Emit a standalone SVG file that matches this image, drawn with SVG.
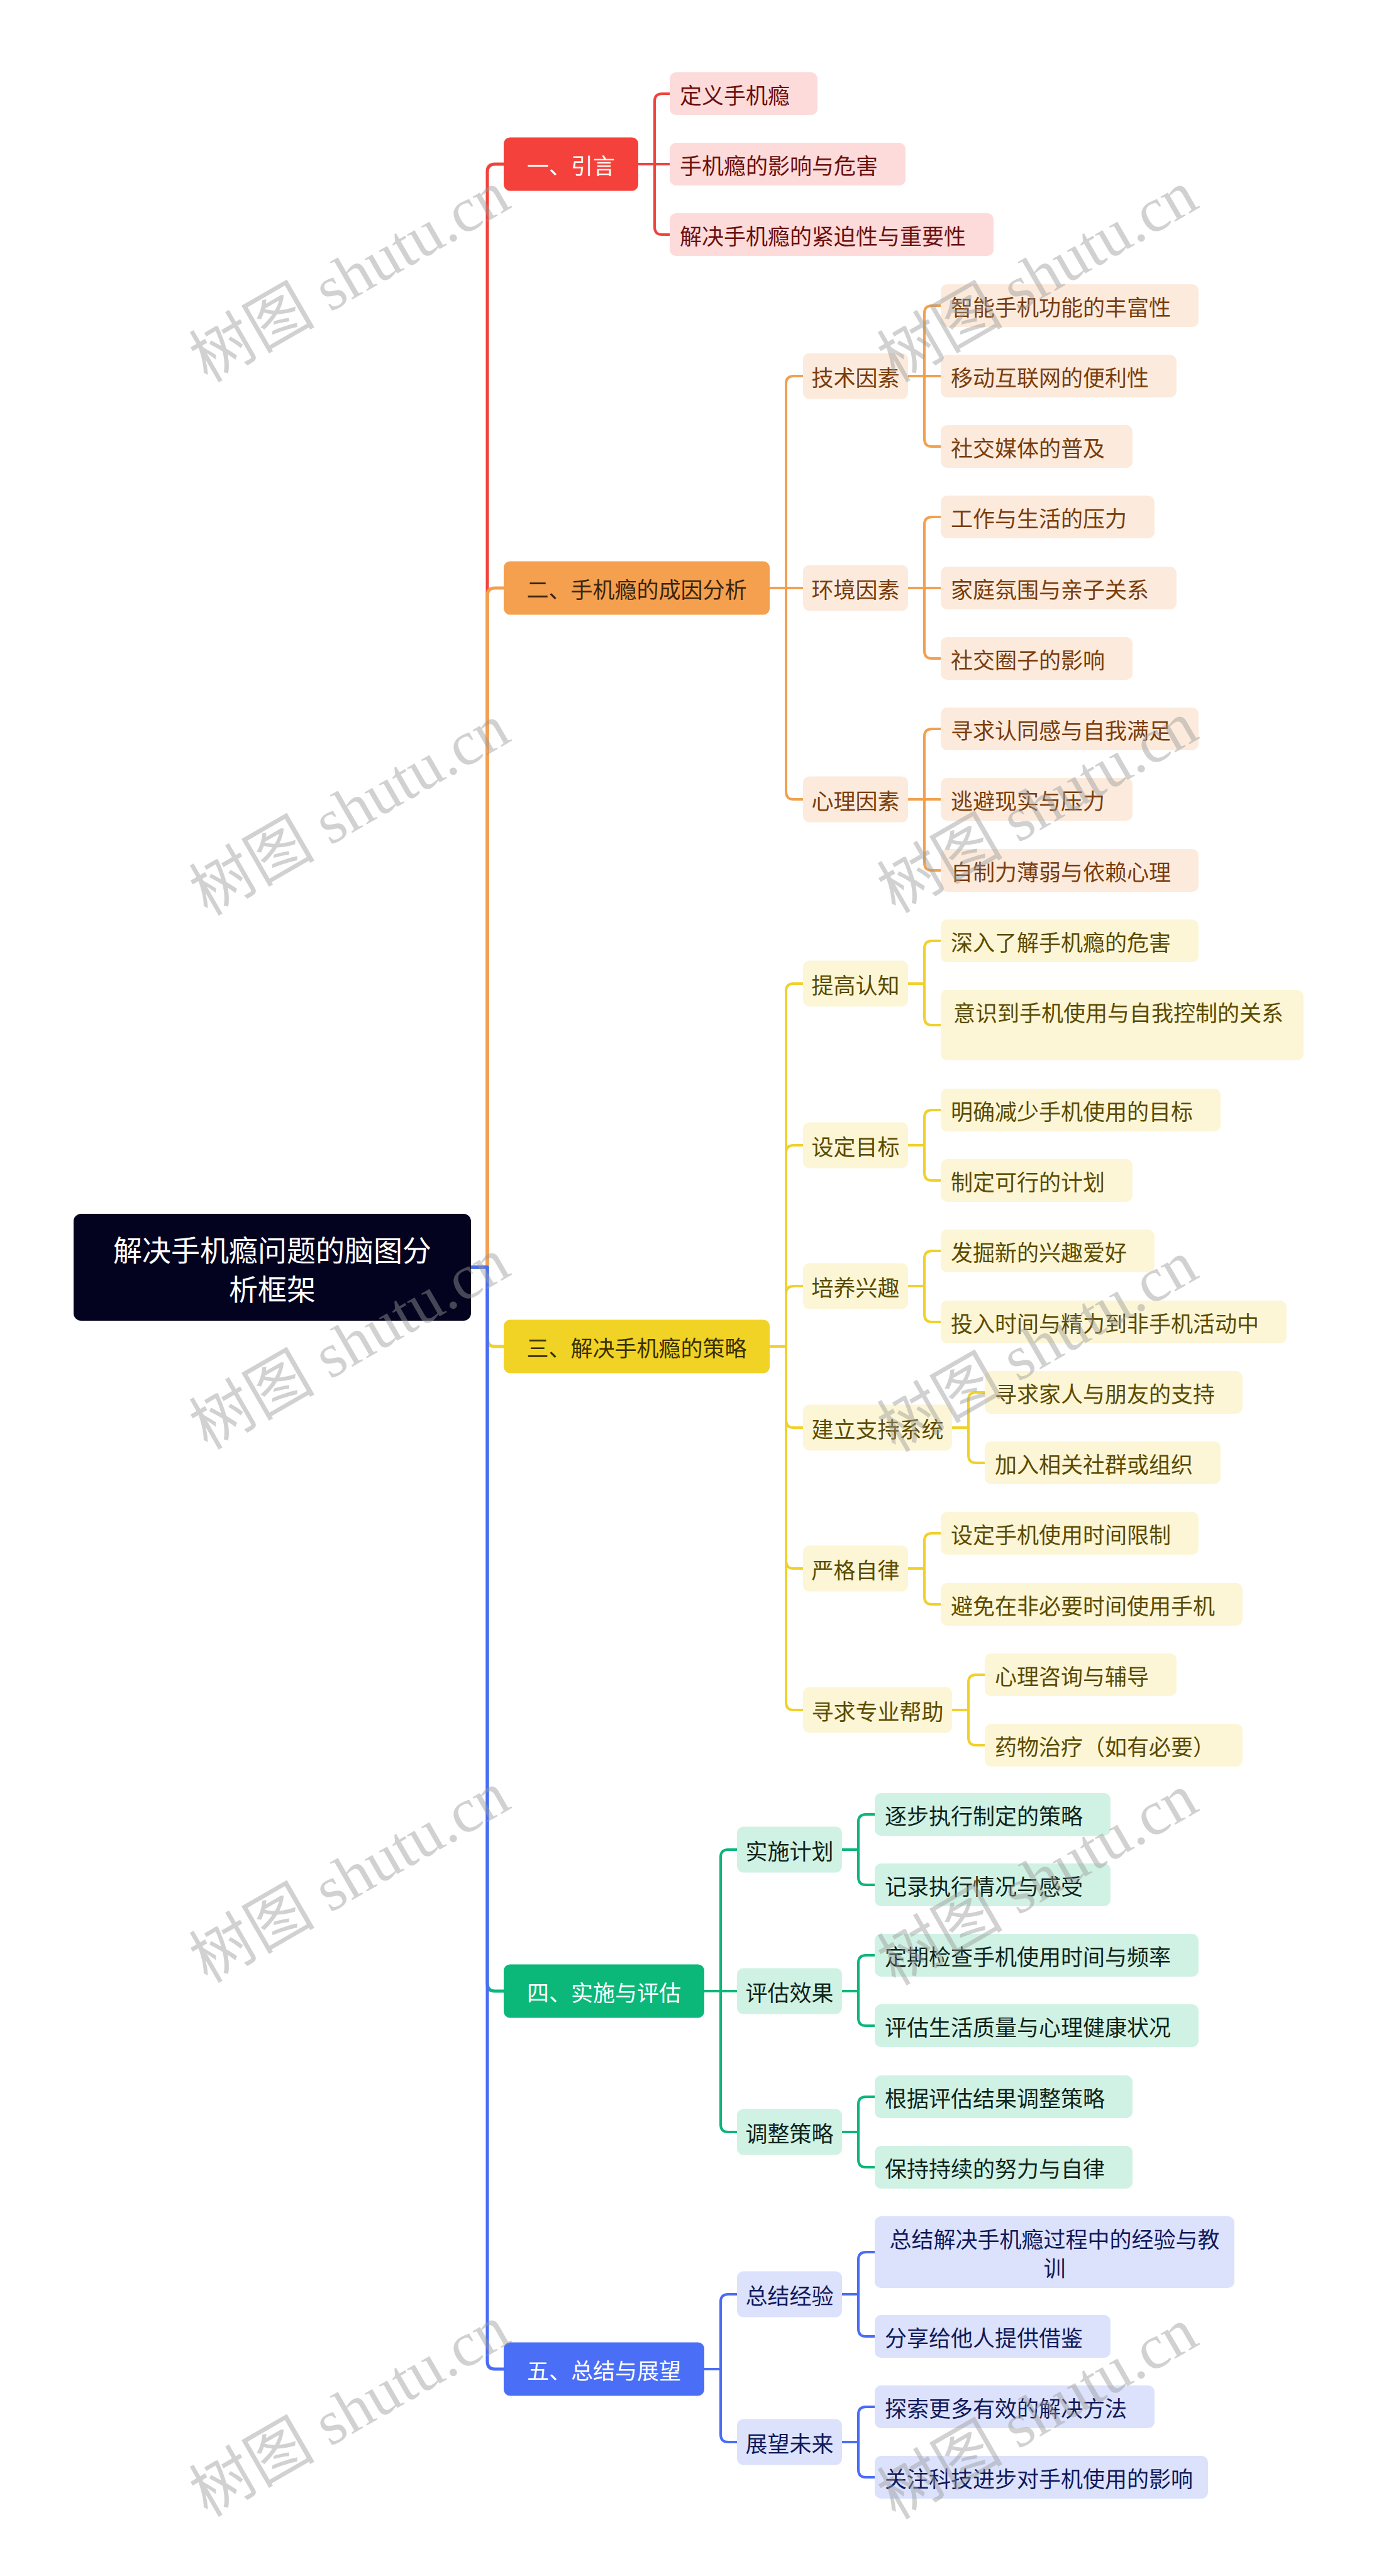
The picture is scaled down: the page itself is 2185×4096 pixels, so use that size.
<svg xmlns="http://www.w3.org/2000/svg" width="2185" height="4096" viewBox="0 0 2185 4096">
<style>
.c{fill:none;stroke-linecap:round;stroke-linejoin:round}
.m{stroke-width:5}
.s{stroke-width:4}
.r{stroke:#F0433B}.o{stroke:#F2A04E}.y{stroke:#F0D12A}.g{stroke:#0DB57A}.b{stroke:#4A6CF5}
text{font-family:"Noto Sans CJK SC","Noto Sans",sans-serif;font-size:35px;dominant-baseline:central}
.ctr{text-anchor:middle}
.wm{font-family:"Liberation Serif","Noto Sans CJK SC",serif;font-size:100px;fill:#999;fill-opacity:0.45;text-anchor:middle}
.f1{fill:#FDDBDA}.t1{fill:#6B1010}
.f2{fill:#FCEBDC}.t2{fill:#7A3D0D}
.f3{fill:#FCF6D6}.t3{fill:#5B4B00}
.f4{fill:#D0F2E4}.t4{fill:#10241A}
.f5{fill:#DCE2FC}.t5{fill:#111A5A}
</style>
<rect width="2185" height="4096" fill="#ffffff"/>
<g id="connectors">
<path class="c m r" d="M749 2015 H775 V273 Q775 261 787 261 H801"/>
<path class="c m o" d="M749 2015 H775 V947 Q775 935 787 935 H801"/>
<path class="c m y" d="M749 2015 H775 V2129 Q775 2141 787 2141 H801"/>
<path class="c m g" d="M749 2015 H775 V3154 Q775 3166 787 3166 H801"/>
<path class="c m b" d="M749 2015 H775 V3755 Q775 3767 787 3767 H801"/>
<path class="c s r" d="M1015 261 H1041 V161 Q1041 149 1053 149 H1065"/>
<path class="c s r" d="M1015 261 H1065"/>
<path class="c s r" d="M1015 261 H1041 V361 Q1041 373 1053 373 H1065"/>
<path class="c s o" d="M1224 935 H1250 V610 Q1250 598 1262 598 H1277"/>
<path class="c s o" d="M1224 935 H1277"/>
<path class="c s o" d="M1224 935 H1250 V1259 Q1250 1271 1262 1271 H1277"/>
<path class="c s o" d="M1444 598 H1470 V498 Q1470 486 1482 486 H1496"/>
<path class="c s o" d="M1444 598 H1496"/>
<path class="c s o" d="M1444 598 H1470 V698 Q1470 710 1482 710 H1496"/>
<path class="c s o" d="M1444 935 H1470 V834 Q1470 822 1482 822 H1496"/>
<path class="c s o" d="M1444 935 H1496"/>
<path class="c s o" d="M1444 935 H1470 V1035 Q1470 1047 1482 1047 H1496"/>
<path class="c s o" d="M1444 1271 H1470 V1171 Q1470 1159 1482 1159 H1496"/>
<path class="c s o" d="M1444 1271 H1496"/>
<path class="c s o" d="M1444 1271 H1470 V1372 Q1470 1384 1482 1384 H1496"/>
<path class="c s y" d="M1224 2141 H1250 V1576 Q1250 1564 1262 1564 H1277"/>
<path class="c s y" d="M1224 2141 H1250 V1833 Q1250 1821 1262 1821 H1277"/>
<path class="c s y" d="M1224 2141 H1250 V2057 Q1250 2045 1262 2045 H1277"/>
<path class="c s y" d="M1224 2141 H1250 V2258 Q1250 2270 1262 2270 H1277"/>
<path class="c s y" d="M1224 2141 H1250 V2482 Q1250 2494 1262 2494 H1277"/>
<path class="c s y" d="M1224 2141 H1250 V2707 Q1250 2719 1262 2719 H1277"/>
<path class="c s y" d="M1444 1564 H1470 V1508 Q1470 1496 1482 1496 H1496"/>
<path class="c s y" d="M1444 1564 H1470 V1618 Q1470 1630 1482 1630 H1496"/>
<path class="c s y" d="M1444 1821 H1470 V1777 Q1470 1765 1482 1765 H1496"/>
<path class="c s y" d="M1444 1821 H1470 V1865 Q1470 1877 1482 1877 H1496"/>
<path class="c s y" d="M1444 2045 H1470 V2001 Q1470 1989 1482 1989 H1496"/>
<path class="c s y" d="M1444 2045 H1470 V2090 Q1470 2102 1482 2102 H1496"/>
<path class="c s y" d="M1514 2270 H1540 V2226 Q1540 2214 1552 2214 H1566"/>
<path class="c s y" d="M1514 2270 H1540 V2314 Q1540 2326 1552 2326 H1566"/>
<path class="c s y" d="M1444 2494 H1470 V2450 Q1470 2438 1482 2438 H1496"/>
<path class="c s y" d="M1444 2494 H1470 V2539 Q1470 2551 1482 2551 H1496"/>
<path class="c s y" d="M1514 2719 H1540 V2675 Q1540 2663 1552 2663 H1566"/>
<path class="c s y" d="M1514 2719 H1540 V2763 Q1540 2775 1552 2775 H1566"/>
<path class="c s g" d="M1120 3166 H1146 V2953 Q1146 2941 1158 2941 H1172"/>
<path class="c s g" d="M1120 3166 H1172"/>
<path class="c s g" d="M1120 3166 H1146 V3378 Q1146 3390 1158 3390 H1172"/>
<path class="c s g" d="M1339 2941 H1365 V2897 Q1365 2885 1377 2885 H1391"/>
<path class="c s g" d="M1339 2941 H1365 V2985 Q1365 2997 1377 2997 H1391"/>
<path class="c s g" d="M1339 3166 H1365 V3121 Q1365 3109 1377 3109 H1391"/>
<path class="c s g" d="M1339 3166 H1365 V3209 Q1365 3221 1377 3221 H1391"/>
<path class="c s g" d="M1339 3390 H1365 V3346 Q1365 3334 1377 3334 H1391"/>
<path class="c s g" d="M1339 3390 H1365 V3434 Q1365 3446 1377 3446 H1391"/>
<path class="c s b" d="M1120 3767 H1146 V3660 Q1146 3648 1158 3648 H1172"/>
<path class="c s b" d="M1120 3767 H1146 V3871 Q1146 3883 1158 3883 H1172"/>
<path class="c s b" d="M1339 3648 H1365 V3593 Q1365 3581 1377 3581 H1391"/>
<path class="c s b" d="M1339 3648 H1365 V3703 Q1365 3715 1377 3715 H1391"/>
<path class="c s b" d="M1339 3883 H1365 V3839 Q1365 3827 1377 3827 H1391"/>
<path class="c s b" d="M1339 3883 H1365 V3927 Q1365 3939 1377 3939 H1391"/>
</g>
<g id="root"><rect x="117" y="1930" width="632" height="170" rx="12" fill="#03031F"/><text class="ctr" x="433" y="1985" fill="#fff" style="font-size:46px">解决手机瘾问题的脑图分</text><text class="ctr" x="433" y="2047" fill="#fff" style="font-size:46px">析框架</text></g>
<g id="n1"><rect x="801" y="218.5" width="214" height="85" rx="10" fill="#F5413B"/><text class="ctr" x="908" y="261" fill="#fff">一、引言</text></g>
<g id="n2"><rect x="801" y="892.5" width="423" height="85" rx="10" fill="#F4A04E"/><text class="ctr" x="1012.5" y="935" fill="#3B2510">二、手机瘾的成因分析</text></g>
<g id="n3"><rect x="801" y="2098.5" width="423" height="85" rx="10" fill="#F1D326"/><text class="ctr" x="1012.5" y="2141" fill="#3A3000">三、解决手机瘾的策略</text></g>
<g id="n4"><rect x="801" y="3123.5" width="319" height="85" rx="10" fill="#0BB879"/><text class="ctr" x="960.5" y="3166" fill="#fff">四、实施与评估</text></g>
<g id="n5"><rect x="801" y="3724.5" width="319" height="85" rx="10" fill="#4B6EF6"/><text class="ctr" x="960.5" y="3767" fill="#fff">五、总结与展望</text></g>
<g id="n1-1"><rect class="f1" x="1065" y="115" width="235" height="68" rx="10"/><text class="t1" x="1081" y="149">定义手机瘾</text></g>
<g id="n1-2"><rect class="f1" x="1065" y="227" width="375" height="68" rx="10"/><text class="t1" x="1081" y="261">手机瘾的影响与危害</text></g>
<g id="n1-3"><rect class="f1" x="1065" y="339" width="515" height="68" rx="10"/><text class="t1" x="1081" y="373">解决手机瘾的紧迫性与重要性</text></g>
<g id="n2-1"><rect class="f2" x="1277" y="561.5" width="167" height="73" rx="10"/><text class="t2 ctr" x="1360.5" y="598">技术因素</text></g>
<g id="n2-2"><rect class="f2" x="1277" y="898.5" width="167" height="73" rx="10"/><text class="t2 ctr" x="1360.5" y="935">环境因素</text></g>
<g id="n2-3"><rect class="f2" x="1277" y="1234.5" width="167" height="73" rx="10"/><text class="t2 ctr" x="1360.5" y="1271">心理因素</text></g>
<g id="n2-1-1"><rect class="f2" x="1496" y="452" width="410" height="68" rx="10"/><text class="t2" x="1512" y="486">智能手机功能的丰富性</text></g>
<g id="n2-1-2"><rect class="f2" x="1496" y="564" width="375" height="68" rx="10"/><text class="t2" x="1512" y="598">移动互联网的便利性</text></g>
<g id="n2-1-3"><rect class="f2" x="1496" y="676" width="305" height="68" rx="10"/><text class="t2" x="1512" y="710">社交媒体的普及</text></g>
<g id="n2-2-1"><rect class="f2" x="1496" y="788" width="340" height="68" rx="10"/><text class="t2" x="1512" y="822">工作与生活的压力</text></g>
<g id="n2-2-2"><rect class="f2" x="1496" y="901" width="375" height="68" rx="10"/><text class="t2" x="1512" y="935">家庭氛围与亲子关系</text></g>
<g id="n2-2-3"><rect class="f2" x="1496" y="1013" width="305" height="68" rx="10"/><text class="t2" x="1512" y="1047">社交圈子的影响</text></g>
<g id="n2-3-1"><rect class="f2" x="1496" y="1125" width="410" height="68" rx="10"/><text class="t2" x="1512" y="1159">寻求认同感与自我满足</text></g>
<g id="n2-3-2"><rect class="f2" x="1496" y="1237" width="305" height="68" rx="10"/><text class="t2" x="1512" y="1271">逃避现实与压力</text></g>
<g id="n2-3-3"><rect class="f2" x="1496" y="1350" width="410" height="68" rx="10"/><text class="t2" x="1512" y="1384">自制力薄弱与依赖心理</text></g>
<g id="n3-1"><rect class="f3" x="1277" y="1527.5" width="167" height="73" rx="10"/><text class="t3 ctr" x="1360.5" y="1564">提高认知</text></g>
<g id="n3-2"><rect class="f3" x="1277" y="1784.5" width="167" height="73" rx="10"/><text class="t3 ctr" x="1360.5" y="1821">设定目标</text></g>
<g id="n3-3"><rect class="f3" x="1277" y="2008.5" width="167" height="73" rx="10"/><text class="t3 ctr" x="1360.5" y="2045">培养兴趣</text></g>
<g id="n3-4"><rect class="f3" x="1277" y="2233.5" width="237" height="73" rx="10"/><text class="t3 ctr" x="1395.5" y="2270">建立支持系统</text></g>
<g id="n3-5"><rect class="f3" x="1277" y="2457.5" width="167" height="73" rx="10"/><text class="t3 ctr" x="1360.5" y="2494">严格自律</text></g>
<g id="n3-6"><rect class="f3" x="1277" y="2682.5" width="237" height="73" rx="10"/><text class="t3 ctr" x="1395.5" y="2719">寻求专业帮助</text></g>
<g id="n3-1-1"><rect class="f3" x="1496" y="1462" width="410" height="68" rx="10"/><text class="t3" x="1512" y="1496">深入了解手机瘾的危害</text></g>
<g id="n3-1-2"><rect class="f3" x="1496" y="1574" width="577" height="112" rx="10"/><text class="t3" x="1516" y="1608">意识到手机使用与自我控制的关系</text></g>
<g id="n3-2-1"><rect class="f3" x="1496" y="1731" width="445" height="68" rx="10"/><text class="t3" x="1512" y="1765">明确减少手机使用的目标</text></g>
<g id="n3-2-2"><rect class="f3" x="1496" y="1843" width="305" height="68" rx="10"/><text class="t3" x="1512" y="1877">制定可行的计划</text></g>
<g id="n3-3-1"><rect class="f3" x="1496" y="1955" width="340" height="68" rx="10"/><text class="t3" x="1512" y="1989">发掘新的兴趣爱好</text></g>
<g id="n3-3-2"><rect class="f3" x="1496" y="2068" width="550" height="68" rx="10"/><text class="t3" x="1512" y="2102">投入时间与精力到非手机活动中</text></g>
<g id="n3-4-1"><rect class="f3" x="1566" y="2180" width="410" height="68" rx="10"/><text class="t3" x="1582" y="2214">寻求家人与朋友的支持</text></g>
<g id="n3-4-2"><rect class="f3" x="1566" y="2292" width="375" height="68" rx="10"/><text class="t3" x="1582" y="2326">加入相关社群或组织</text></g>
<g id="n3-5-1"><rect class="f3" x="1496" y="2404" width="410" height="68" rx="10"/><text class="t3" x="1512" y="2438">设定手机使用时间限制</text></g>
<g id="n3-5-2"><rect class="f3" x="1496" y="2517" width="480" height="68" rx="10"/><text class="t3" x="1512" y="2551">避免在非必要时间使用手机</text></g>
<g id="n3-6-1"><rect class="f3" x="1566" y="2629" width="305" height="68" rx="10"/><text class="t3" x="1582" y="2663">心理咨询与辅导</text></g>
<g id="n3-6-2"><rect class="f3" x="1566" y="2741" width="410" height="68" rx="10"/><text class="t3" x="1582" y="2775">药物治疗（如有必要）</text></g>
<g id="n4-1"><rect class="f4" x="1172" y="2904.5" width="167" height="73" rx="10"/><text class="t4 ctr" x="1255.5" y="2941">实施计划</text></g>
<g id="n4-2"><rect class="f4" x="1172" y="3129.5" width="167" height="73" rx="10"/><text class="t4 ctr" x="1255.5" y="3166">评估效果</text></g>
<g id="n4-3"><rect class="f4" x="1172" y="3353.5" width="167" height="73" rx="10"/><text class="t4 ctr" x="1255.5" y="3390">调整策略</text></g>
<g id="n4-1-1"><rect class="f4" x="1391" y="2851" width="375" height="68" rx="10"/><text class="t4" x="1407" y="2885">逐步执行制定的策略</text></g>
<g id="n4-1-2"><rect class="f4" x="1391" y="2963" width="375" height="68" rx="10"/><text class="t4" x="1407" y="2997">记录执行情况与感受</text></g>
<g id="n4-2-1"><rect class="f4" x="1391" y="3075" width="515" height="68" rx="10"/><text class="t4" x="1407" y="3109">定期检查手机使用时间与频率</text></g>
<g id="n4-2-2"><rect class="f4" x="1391" y="3187" width="515" height="68" rx="10"/><text class="t4" x="1407" y="3221">评估生活质量与心理健康状况</text></g>
<g id="n4-3-1"><rect class="f4" x="1391" y="3300" width="410" height="68" rx="10"/><text class="t4" x="1407" y="3334">根据评估结果调整策略</text></g>
<g id="n4-3-2"><rect class="f4" x="1391" y="3412" width="410" height="68" rx="10"/><text class="t4" x="1407" y="3446">保持持续的努力与自律</text></g>
<g id="n5-1"><rect class="f5" x="1172" y="3611.5" width="167" height="73" rx="10"/><text class="t5 ctr" x="1255.5" y="3648">总结经验</text></g>
<g id="n5-2"><rect class="f5" x="1172" y="3846.5" width="167" height="73" rx="10"/><text class="t5 ctr" x="1255.5" y="3883">展望未来</text></g>
<g id="n5-1-1"><rect class="f5" x="1391" y="3524" width="572" height="114" rx="10"/><text class="t5 ctr" x="1677" y="3558">总结解决手机瘾过程中的经验与教</text><text class="t5 ctr" x="1677" y="3604">训</text></g>
<g id="n5-1-2"><rect class="f5" x="1391" y="3681" width="375" height="68" rx="10"/><text class="t5" x="1407" y="3715">分享给他人提供借鉴</text></g>
<g id="n5-2-1"><rect class="f5" x="1391" y="3793" width="445" height="68" rx="10"/><text class="t5" x="1407" y="3827">探索更多有效的解决方法</text></g>
<g id="n5-2-2"><rect class="f5" x="1391" y="3905" width="530" height="68" rx="10"/><text class="t5" x="1407" y="3939">关注科技进步对手机使用的影响</text></g>
<g id="watermarks">
<text class="wm" transform="translate(556,440) rotate(-30)">树图 shutu.cn</text>
<text class="wm" transform="translate(1650,440) rotate(-30)">树图 shutu.cn</text>
<text class="wm" transform="translate(556,1288) rotate(-30)">树图 shutu.cn</text>
<text class="wm" transform="translate(1650,1284) rotate(-30)">树图 shutu.cn</text>
<text class="wm" transform="translate(556,2137) rotate(-30)">树图 shutu.cn</text>
<text class="wm" transform="translate(1650,2141) rotate(-30)">树图 shutu.cn</text>
<text class="wm" transform="translate(556,2985) rotate(-30)">树图 shutu.cn</text>
<text class="wm" transform="translate(1650,2989) rotate(-30)">树图 shutu.cn</text>
<text class="wm" transform="translate(556,3834) rotate(-30)">树图 shutu.cn</text>
<text class="wm" transform="translate(1650,3838) rotate(-30)">树图 shutu.cn</text>
</g>
</svg>
